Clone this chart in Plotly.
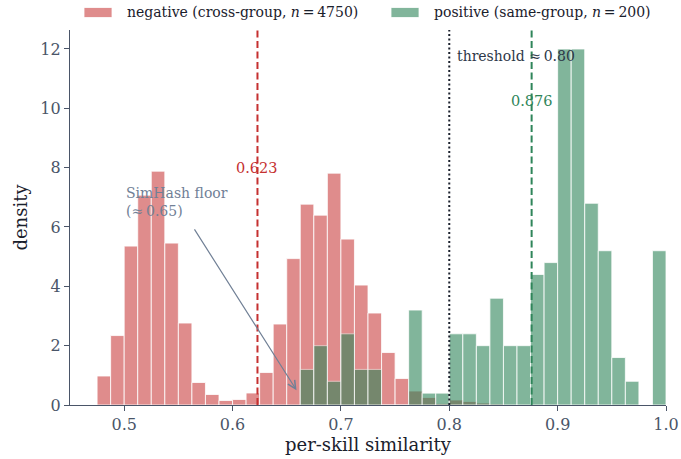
import numpy as np
import plotly.graph_objects as go

# Histogram bins (shared width), counts per bin for each group
BIN_WIDTH = 0.0125
neg_first_edge = 0.475
neg_counts = [58, 139, 318, 420, 468, 324, 164, 45, 21, 9, 11, 24, 65, 162, 293,
              402, 380, 464, 332, 240, 184, 105, 53, 28, 15, 3, 10, 7, 4, 2]
pos_first_edge = 0.6625
pos_counts = [3, 5, 2, 6, 3, 3, 0, 0, 8, 1, 1, 6, 6, 5, 9, 5, 5, 11, 12, 30, 30,
              17, 13, 4, 2, 0, 13]
n_neg = 4750
n_pos = 200

neg_mean = 0.623
pos_mean = 0.876
threshold = 0.80
simhash_floor = 0.65

x_ticks = [0.5, 0.6, 0.7, 0.8, 0.9, 1.0]
x_tick_labels = ["0.5", "0.6", "0.7", "0.8", "0.9", "1.0"]
y_ticks = [0, 2, 4, 6, 8, 10, 12]

RED = "#c53030"
GREEN = "#2f855a"
SLATE = "#4a5568"
INK = "#1a202c"
FONT = "DejaVu Serif"


def centers(first_edge, counts):
    return first_edge + BIN_WIDTH * (np.arange(len(counts)) + 0.5)


def density(counts, n):
    return np.asarray(counts, dtype=float) / (n * BIN_WIDTH)


fig = go.Figure()
fig.add_trace(go.Bar(
    x=centers(neg_first_edge, neg_counts), y=density(neg_counts, n_neg),
    width=BIN_WIDTH, marker=dict(color=RED, line=dict(color="white", width=0.8)),
    opacity=0.55, showlegend=False, name="negative",
))
fig.add_trace(go.Bar(
    x=centers(pos_first_edge, pos_counts), y=density(pos_counts, n_pos),
    width=BIN_WIDTH, marker=dict(color=GREEN, line=dict(color="white", width=0.8)),
    opacity=0.6, showlegend=False, name="positive",
))

# Reference lines: group means and decision threshold
fig.add_shape(type="line", xref="x", yref="paper", x0=neg_mean, x1=neg_mean, y0=0, y1=1,
              line=dict(color=RED, width=2, dash="7px,3.5px"))
fig.add_shape(type="line", xref="x", yref="paper", x0=pos_mean, x1=pos_mean, y0=0, y1=1,
              line=dict(color=GREEN, width=2, dash="7px,3.5px"))
fig.add_shape(type="line", xref="x", yref="paper", x0=threshold, x1=threshold, y0=0, y1=1,
              line=dict(color=INK, width=2, dash="2px,2.5px"))

fig.add_annotation(x=neg_mean, y=8.0, text=f"{neg_mean:.3f}", showarrow=False,
                   font=dict(family=FONT, size=14.5, color=RED), xanchor="center", yanchor="middle")
fig.add_annotation(x=pos_mean, y=10.26, text=f"{pos_mean:.3f}", showarrow=False,
                   font=dict(family=FONT, size=14.5, color=GREEN), xanchor="center", yanchor="middle")
fig.add_annotation(x=threshold + 0.005, y=11.76, text=f"threshold ≈\u2009{threshold:.2f}",
                   showarrow=False, font=dict(family=FONT, size=14, color="#2d3748"),
                   xanchor="left", yanchor="middle")

# SimHash floor note with arrow
fig.add_annotation(x=0.5, y=6.84, text=f"SimHash floor<br>(≈\u2009{simhash_floor:.2f})",
                   showarrow=False, align="left", xanchor="left", yanchor="middle",
                   font=dict(family=FONT, size=14, color="#718096"))
fig.add_annotation(x=0.659, y=0.5, ax=0.564, ay=5.97, axref="x", ayref="y", text="",
                   showarrow=True, arrowhead=5, arrowsize=1.3, arrowwidth=1.2,
                   arrowcolor="#718096", standoff=0, startstandoff=0)

# Legend drawn above the plot area
legend_items = [
    (f"negative (cross-group, <i>n</i>\u2009=\u2009{n_neg})", RED, 0.55, 0.0235, 0.0705, 0.0926),
    (f"positive (same-group, <i>n</i>\u2009=\u2009{n_pos})", GREEN, 0.6, 0.5386, 0.5856, 0.6078),
]
for label, color, alpha, x0, x1, xt in legend_items:
    fig.add_shape(type="rect", xref="paper", yref="paper", x0=x0, x1=x1, y0=1.0333, y1=1.0600,
                  fillcolor=color, opacity=alpha, line=dict(color="white", width=0.8))
    fig.add_annotation(xref="paper", yref="paper", x=xt, y=1.0467, text=label, showarrow=False,
                       xanchor="left", yanchor="middle",
                       font=dict(family=FONT, size=14, color=INK))

axis_common = dict(
    showline=True, linecolor=SLATE, linewidth=1.2, ticks="outside", ticklen=5,
    tickwidth=1, tickcolor=SLATE, showgrid=False, zeroline=False, automargin=False,
    tickfont=dict(family=FONT, size=16, color=SLATE),
)
fig.update_xaxes(range=[0.45, 1.0], tickvals=x_ticks, ticktext=x_tick_labels,
                 title=dict(text="per-skill similarity", font=dict(family=FONT, size=18, color=INK),
                            standoff=4),
                 **axis_common)
fig.update_yaxes(range=[0, 12.64], tickvals=y_ticks,
                 title=dict(text="density", font=dict(family=FONT, size=18, color=INK), standoff=8),
                 **axis_common)

fig.update_layout(
    width=681, height=459, barmode="overlay",
    margin=dict(l=70, r=15, t=30, b=54),
    paper_bgcolor="white", plot_bgcolor="white",
    font=dict(family=FONT),
)

fig.write_html("out.html")
